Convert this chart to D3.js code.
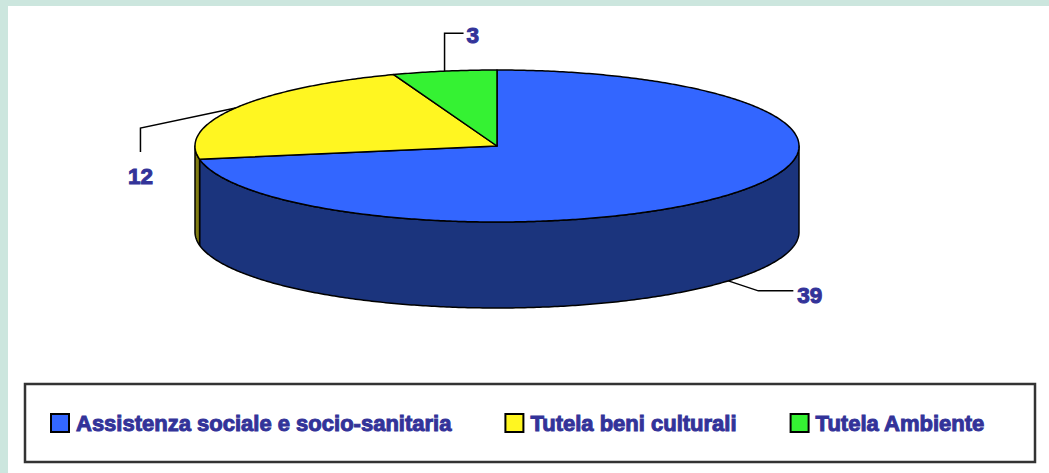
<!DOCTYPE html>
<html>
<head>
<meta charset="utf-8">
<script src="https://cdn.jsdelivr.net/npm/d3@7"></script>
<style>
  body { margin: 0; background: #cce6de; }
  svg { display: block; }
  text { font-family: "Liberation Sans", Arial, sans-serif; font-weight: bold; }
</style>
</head>
<body>
<svg id="chart" width="1049" height="473"></svg>
<script>
// data
var categories = ["Assistenza sociale e socio-sanitaria", "Tutela beni culturali", "Tutela Ambiente"];
var values = [39, 12, 3];
var topColors = ["#3366ff", "#fff621", "#35f233"];
var sideColors = ["#1b347d", "#807c12", "#1a801a"];

// pie geometry
var cx = 497, cy = 146, rx = 302, ry = 76, depth = 86;
var labelColor = "#333399";

var svg = d3.select("svg#chart");

// white plot area inside the mint frame
svg.append("rect")
    .attr("x", 8).attr("y", 6)
    .attr("width", 1041).attr("height", 467)
    .attr("fill", "#ffffff");

var pie = d3.pie().sort(null).value(function(d) { return d; })
    .startAngle(0).endAngle(2 * Math.PI);
var arcs = pie(values);

// point on the tilted ellipse, angle clockwise from 12 o'clock
function pt(a, dy) {
  return [cx + rx * Math.sin(a), cy - ry * Math.cos(a) + (dy || 0)];
}

function arcPoints(a0, a1, dy) {
  var n = Math.max(2, Math.ceil(Math.abs(a1 - a0) / 0.01)), pts = [];
  for (var i = 0; i <= n; i++) pts.push(pt(a0 + (a1 - a0) * i / n, dy));
  return pts;
}

var g = svg.append("g");

// outer walls first (only the front half can be seen)
arcs.forEach(function(d, i) {
  var s0 = Math.max(d.startAngle, Math.PI / 2),
      s1 = Math.min(d.endAngle, 3 * Math.PI / 2);
  if (s0 >= s1) return;
  var pts = arcPoints(s0, s1, 0).concat(arcPoints(s1, s0, depth));
  g.append("path")
      .attr("d", d3.line()(pts) + "Z")
      .attr("fill", sideColors[i])
      .attr("stroke", "#000")
      .attr("stroke-width", 1.5)
      .attr("stroke-linejoin", "round");
});

// top faces
arcs.forEach(function(d, i) {
  var pts = [[cx, cy]].concat(arcPoints(d.startAngle, d.endAngle, 0));
  g.append("path")
      .attr("d", d3.line()(pts) + "Z")
      .attr("fill", topColors[i])
      .attr("stroke", "#000")
      .attr("stroke-width", 1.5)
      .attr("stroke-linejoin", "round");
});

// data labels with Excel-like leader lines (offsets from the slice anchor)
var leaders = [
  {bend: [[30, 10], [65, 10]], text: [69, 22], anchor: "start"},
  {bend: [[-95, 20], [-95, 44]], text: [-95, 76], anchor: "middle"},
  {bend: [[0, -38], [19, -38]], text: [22, -28], anchor: "start"}
];

arcs.forEach(function(d, i) {
  var m = (d.startAngle + d.endAngle) / 2;
  var a = Math.cos(m) < 0 ? pt(m, depth) : pt(m, 0);
  var L = leaders[i];
  var pts = [a].concat(L.bend.map(function(o) { return [a[0] + o[0], a[1] + o[1]]; }));
  g.append("path")
      .attr("d", d3.line()(pts))
      .attr("fill", "none")
      .attr("stroke", "#000")
      .attr("stroke-width", 1.5);
  g.append("text")
      .attr("x", a[0] + L.text[0])
      .attr("y", a[1] + L.text[1])
      .attr("text-anchor", L.anchor)
      .style("font-size", "22.5px")
      .attr("fill", labelColor)
      .attr("stroke", labelColor)
      .attr("stroke-width", 1)
      .text(values[i]);
});

// legend
var legend = svg.append("g");
legend.append("rect")
    .attr("x", 25).attr("y", 384)
    .attr("width", 1010).attr("height", 78)
    .attr("fill", "#fff")
    .attr("stroke", "#333")
    .attr("stroke-width", 2.5);

var lx = 51;
categories.forEach(function(c, i) {
  legend.append("rect")
      .attr("x", lx).attr("y", 414)
      .attr("width", 18).attr("height", 18)
      .attr("fill", topColors[i])
      .attr("stroke", "#000")
      .attr("stroke-width", 2);
  var t = legend.append("text")
      .attr("x", lx + 25)
      .attr("y", 431)
      .style("font-size", "22px")
      .attr("fill", labelColor)
      .attr("stroke", labelColor)
      .attr("stroke-width", 1)
      .text(c);
  lx += 25 + t.node().getComputedTextLength() + 54;
});
</script>
</body>
</html>
